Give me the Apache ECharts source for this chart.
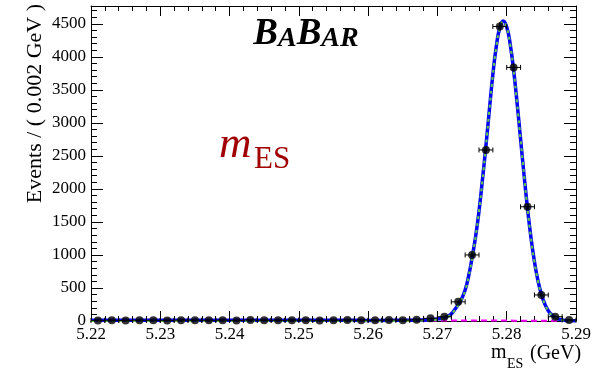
<!DOCTYPE html>
<html>
<head>
<meta charset="utf-8">
<script src="https://cdn.jsdelivr.net/npm/echarts@6/dist/echarts.min.js"></script>
<style>
  html, body { margin: 0; padding: 0; background: #ffffff; }
  #chart { width: 606px; height: 372px; }
</style>
</head>
<body>
<div id="chart"></div>
<script>
// Binned m_ES data: bin centres (GeV), event counts and statistical errors
const binCenters = [
  5.221, 5.223, 5.225, 5.227, 5.229, 5.231, 5.233, 5.235, 5.237, 5.239,
  5.241, 5.243, 5.245, 5.247, 5.249, 5.251, 5.253, 5.255, 5.257, 5.259,
  5.261, 5.263, 5.265, 5.267, 5.269, 5.271, 5.273, 5.275, 5.277, 5.279,
  5.281, 5.283, 5.285, 5.287, 5.289
];
const counts = [
  9, 11, 8, 12, 10, 9, 13, 11, 10, 12,
  9, 14, 11, 10, 12, 13, 9, 11, 14, 12,
  10, 15, 13, 18, 40, 65, 290, 1000, 2590, 4460,
  3840, 1730, 394, 65, 15
];
const countErrors = [
  3, 3, 3, 3, 3, 3, 4, 3, 3, 3,
  3, 4, 3, 3, 3, 4, 3, 3, 4, 3,
  3, 4, 4, 4, 6, 8, 17, 32, 51, 67,
  62, 42, 20, 8, 4
];
const binHalfWidth = 0.001;

// Fit curves sampled along m_ES: total, signal and background components
const curveX = [
  5.2200, 5.2250, 5.2300, 5.2350, 5.2400, 5.2450, 5.2500, 5.2550,
  5.2600, 5.2630, 5.2650, 5.2670, 5.2680, 5.2690, 5.2695, 5.2700,
  5.2705, 5.2710, 5.2715, 5.2720, 5.2725, 5.2730, 5.2735, 5.2740,
  5.2745, 5.2750, 5.2755, 5.2760, 5.2765, 5.2770, 5.2775, 5.2780,
  5.2785, 5.2790, 5.2795, 5.2800, 5.2805, 5.2810, 5.2815, 5.2820,
  5.2825, 5.2830, 5.2835, 5.2840, 5.2845, 5.2850, 5.2855, 5.2860,
  5.2865, 5.2870, 5.2875, 5.2880, 5.2885, 5.2890, 5.2895, 5.2900
];
const totalFit = [
  10, 10, 10, 10, 10, 10, 10, 10,
  9, 10, 11, 14, 17, 22, 26, 31,
  37, 50, 72, 108, 173, 248, 338, 468,
  678, 958, 1272, 1662, 2142, 2652, 3202, 3732,
  4161, 4441, 4541, 4451, 4193, 3793, 3298, 2755,
  2212, 1705, 1263, 901, 616, 405, 257, 156,
  92, 52, 29, 16, 8, 4, 2, 0
];
const signalFit = [
  0, 0, 0, 0, 0, 0, 0, 0,
  0, 1, 2, 5, 8, 13, 17, 22,
  28, 42, 64, 100, 165, 240, 330, 460,
  670, 950, 1265, 1655, 2135, 2645, 3195, 3725,
  4155, 4435, 4535, 4445, 4187, 3788, 3293, 2750,
  2207, 1701, 1259, 897, 612, 402, 254, 153,
  89, 50, 27, 14, 7, 3, 1, 0
];
const backgroundFit = [
  10, 10, 10, 10, 10, 10, 10, 10,
  9, 9, 9, 9, 9, 9, 9, 9,
  9, 8, 8, 8, 8, 8, 8, 8,
  8, 8, 7, 7, 7, 7, 7, 7,
  6, 6, 6, 6, 6, 5, 5, 5,
  5, 4, 4, 4, 4, 3, 3, 3,
  3, 2, 2, 2, 1, 1, 1, 0
];

// Axis ranges
const xMin = 5.22, xMax = 5.29, xStep = 0.01;
const yMin = 0, yMax = 4770, yStep = 500;

const serif = '"Liberation Serif", "DejaVu Serif", serif';

const pairs = (xs, ys) => xs.map((x, i) => [x, ys[i]]);
const points = binCenters.map((x, i) => [x, counts[i], countErrors[i]]);

const chart = echarts.init(document.getElementById('chart'), null, { renderer: 'canvas' });

const frameLine = { show: true, onZero: false, lineStyle: { color: '#000', width: 1 } };

const option = {
  animation: false,
  backgroundColor: '#ffffff',
  grid: { left: 91, right: 30, top: 6, bottom: 51, containLabel: false },
  xAxis: [
    {
      type: 'value', min: xMin, max: xMax, interval: xStep, position: 'bottom',
      axisLine: frameLine,
      axisTick: { show: true, inside: true, length: 10, lineStyle: { color: '#000' } },
      minorTick: { show: true, splitNumber: 5, length: 5, lineStyle: { color: '#000' } },
      splitLine: { show: false },
      axisLabel: {
        show: true, margin: 5, color: '#000', fontFamily: serif, fontSize: 17,
        formatter: v => v.toFixed(2)
      }
    },
    {
      type: 'value', min: xMin, max: xMax, interval: xStep, position: 'top',
      axisLine: frameLine,
      axisTick: { show: true, inside: true, length: 10, lineStyle: { color: '#000' } },
      minorTick: { show: true, splitNumber: 5, length: 5, lineStyle: { color: '#000' } },
      splitLine: { show: false },
      axisLabel: { show: false }
    }
  ],
  yAxis: [
    {
      type: 'value', min: yMin, max: yMax, interval: yStep, position: 'left',
      axisLine: frameLine,
      axisTick: { show: true, inside: true, length: 12, lineStyle: { color: '#000' } },
      minorTick: { show: true, splitNumber: 5, length: 6, lineStyle: { color: '#000' } },
      splitLine: { show: false },
      axisLabel: {
        show: true, margin: 5, color: '#000', fontFamily: serif, fontSize: 17,
        showMaxLabel: false,
        formatter: v => (v % 500 === 0 ? String(v) : '')
      }
    },
    {
      type: 'value', min: yMin, max: yMax, interval: yStep, position: 'right',
      axisLine: frameLine,
      axisTick: { show: true, inside: true, length: 12, lineStyle: { color: '#000' } },
      minorTick: { show: true, splitNumber: 5, length: 6, lineStyle: { color: '#000' } },
      splitLine: { show: false },
      axisLabel: { show: false }
    }
  ],
  series: [
    {
      name: 'background', type: 'line', xAxisIndex: 0, yAxisIndex: 0,
      data: pairs(curveX, backgroundFit), showSymbol: false, smooth: false,
      lineStyle: { color: '#ff00ff', width: 2, type: [6, 4] }, z: 3
    },
    {
      name: 'total', type: 'line', xAxisIndex: 0, yAxisIndex: 0,
      data: pairs(curveX, totalFit), showSymbol: false, smooth: true,
      lineStyle: { color: '#0000ff', width: 3.5 }, z: 4
    },
    {
      name: 'signal', type: 'line', xAxisIndex: 0, yAxisIndex: 0,
      data: pairs(curveX, signalFit), showSymbol: false, smooth: true,
      lineStyle: { color: '#5fc24a', width: 2.2, type: [3, 4] }, z: 5
    },
    {
      name: 'errors', type: 'custom', xAxisIndex: 0, yAxisIndex: 0,
      data: points, z: 6,
      renderItem: (params, api) => {
        const x = api.value(0), y = api.value(1), e = api.value(2);
        const l = api.coord([x - binHalfWidth, y]);
        const r = api.coord([x + binHalfWidth, y]);
        const t = api.coord([x, y + e]);
        const b = api.coord([x, y - e]);
        const st = { stroke: '#000', lineWidth: 1 };
        const cap = 2.5;
        return {
          type: 'group',
          children: [
            { type: 'line', shape: { x1: l[0], y1: l[1], x2: r[0], y2: r[1] }, style: st },
            { type: 'line', shape: { x1: l[0], y1: l[1] - cap, x2: l[0], y2: l[1] + cap }, style: st },
            { type: 'line', shape: { x1: r[0], y1: r[1] - cap, x2: r[0], y2: r[1] + cap }, style: st },
            { type: 'line', shape: { x1: t[0], y1: t[1], x2: b[0], y2: b[1] }, style: st }
          ]
        };
      }
    },
    {
      name: 'data', type: 'scatter', xAxisIndex: 0, yAxisIndex: 0,
      data: points.map(p => [p[0], p[1]]), symbol: 'circle', symbolSize: 8,
      itemStyle: { color: '#000' }, z: 7
    }
  ],
  graphic: [
    {
      type: 'text', x: 306, y: 53,
      style: {
        text: '{b|B}{s|A}{b|B}{s|AR}',
        align: 'center', verticalAlign: 'bottom',
        rich: {
          b: { fontFamily: serif, fontSize: 37, fontWeight: 'bold', fontStyle: 'italic', fill: '#000', verticalAlign: 'bottom' },
          s: { fontFamily: serif, fontSize: 28, fontWeight: 'bold', fontStyle: 'italic', fill: '#000', verticalAlign: 'bottom' }
        }
      }
    },
    {
      type: 'text', x: 219, y: 168,
      style: { text: 'm', fontFamily: serif, fontSize: 45, fontStyle: 'italic', fill: '#a00000', verticalAlign: 'bottom' }
    },
    {
      type: 'text', x: 254, y: 175,
      style: { text: 'ES', fontFamily: serif, fontSize: 31, fill: '#a00000', verticalAlign: 'bottom' }
    },
    {
      type: 'text', x: 35, y: 4, rotation: Math.PI / 2,
      style: { text: 'Events / ( 0.002 GeV )', fontFamily: serif, fontSize: 22, fill: '#000', align: 'right', verticalAlign: 'middle' }
    },
    {
      type: 'text', x: 491, y: 363,
      style: { text: 'm', fontFamily: serif, fontSize: 20, fill: '#000', verticalAlign: 'bottom' }
    },
    {
      type: 'text', x: 507, y: 371,
      style: { text: 'ES', fontFamily: serif, fontSize: 14, fill: '#000', verticalAlign: 'bottom' }
    },
    {
      type: 'text', x: 530, y: 364,
      style: { text: '(GeV)', fontFamily: serif, fontSize: 20, fill: '#000', verticalAlign: 'bottom' }
    }
  ]
};

chart.setOption(option);
</script>
</body>
</html>
